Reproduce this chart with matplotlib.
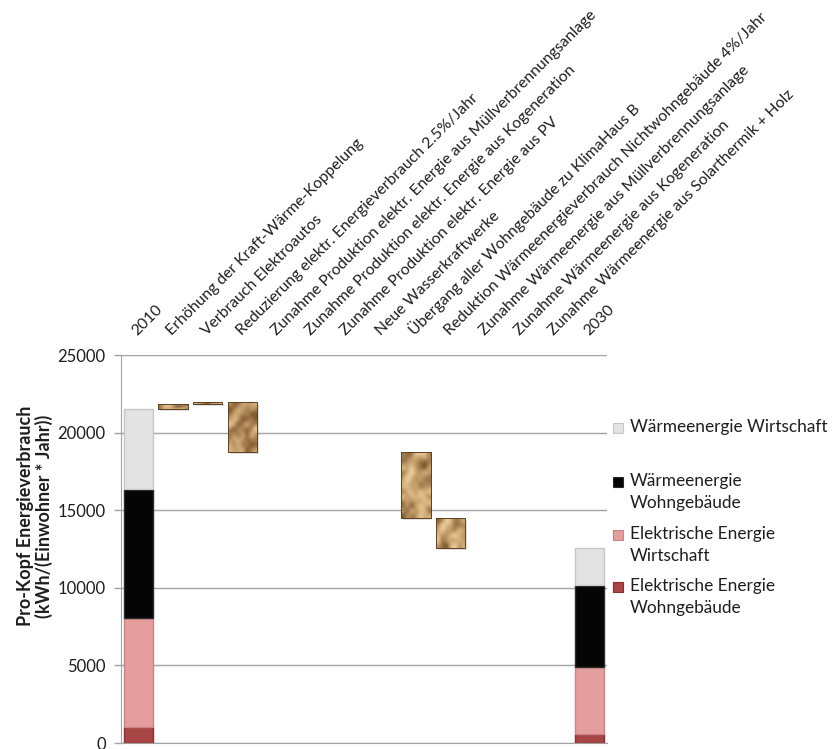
import numpy as np
import matplotlib
matplotlib.use("Agg")
import matplotlib.pyplot as plt
from matplotlib.patches import Rectangle
from matplotlib.colors import LinearSegmentedColormap

plt.rcParams["font.family"] = ["Lato", "DejaVu Sans"]

# --- data -------------------------------------------------------------
categories = [
    "2010",
    "Erhöhung der Kraft-Wärme-Koppelung",
    "Verbrauch Elektroautos",
    "Reduzierung elektr. Energieverbrauch 2.5%/Jahr",
    "Zunahme Produktion elektr. Energie aus Müllverbrennungsanlage",
    "Zunahme Produktion elektr. Energie aus Kogeneration",
    "Zunahme Produktion elektr. Energie aus PV",
    "Neue Wasserkraftwerke",
    "Übergang aller Wohngebäude zu KlimaHaus B",
    "Reduktion Wärmeenergieverbrauch Nichtwohngebäude 4%/Jahr",
    "Zunahme Wärmeenergie aus Müllverbrennungsanlage",
    "Zunahme Wärmeenergie aus Kogeneration",
    "Zunahme Wärmeenergie aus Solarthermik + Holz",
    "2030",
]

series_names = [
    "Elektrische Energie\nWohngebäude",
    "Elektrische Energie\nWirtschaft",
    "Wärmeenergie\nWohngebäude",
    "Wärmeenergie Wirtschaft",
]
values_2010 = [1000, 7050, 8300, 5150]
values_2030 = [600, 4320, 5260, 2370]

# changes between the two totals (steps 1 .. 12)
changes = [320, 150, -3200, 0, 0, 0, 0, -4300, -1920, 0, 0, 0]

yticks = [0, 5000, 10000, 15000, 20000, 25000]

# --- styling ------------------------------------------------------------
series_colors = ["#a84545", "#e59d9d", "#050505", "#e3e3e3"]
edge_colors = ["#8a3030", "#c98585", "#2a2a2a", "#c6c6c6"]
grid_color = "#a3a3a3"
text_color = "#1e1e1e"
bar_width = 0.84

fig = plt.figure(figsize=(8.32, 7.49), dpi=100)
W, H = 832, 749
ax = fig.add_axes([121 / W, 1 - 743 / H, (607 - 121) / W, (743 - 355) / H])

x = np.arange(len(categories))

# stacked totals for 2010 and 2030
for xi, vals in ((0, values_2010), (len(categories) - 1, values_2030)):
    bottom = 0
    for v, c, ec in zip(vals, series_colors, edge_colors):
        ax.bar(xi, v, bottom=bottom, width=bar_width, color=c,
               edgecolor=ec, linewidth=1.0, zorder=3)
        bottom += v

# floating bars for the steps, filled with a crumpled-paper texture
paper = LinearSegmentedColormap.from_list(
    "paper", ["#5e4224", "#8f6a3e", "#c29c69", "#e4c48f", "#f6e0b6"])
rng = np.random.default_rng(7)
level = sum(values_2010)
for i, d in enumerate(changes, start=1):
    start, end = level, level + d
    level = end
    if d == 0:
        continue
    lo, hi = min(start, end), max(start, end)
    bars = ax.bar(i, hi - lo, bottom=lo, width=bar_width, color="#b8935f",
                  edgecolor="#6b4c2a", linewidth=0.6, zorder=3)
    patch = bars[0]
    # soft shadow beneath the box
    ax.bar(i + 0.05, hi - lo, bottom=lo - 120, width=bar_width,
           color="#000000", alpha=0.12, linewidth=0, zorder=2)
    ny = max(3, int((hi - lo) / 300))
    nx = 7
    tex = rng.random((ny, nx))
    tex = 0.5 * tex + 0.5 * np.roll(np.roll(tex, 1, axis=1), 1, axis=0)
    img = ax.imshow(tex, cmap=paper, interpolation="bicubic", aspect="auto",
                    extent=(i - bar_width / 2, i + bar_width / 2, lo, hi),
                    origin="lower", zorder=4)
    img.set_clip_path(patch)
    ax.add_patch(Rectangle((i - bar_width / 2, lo), bar_width, hi - lo,
                           fill=False, edgecolor="#5e4222", linewidth=0.7,
                           zorder=5))

ax.set_xlim(-0.5, len(categories) - 0.5)
ax.set_ylim(0, 25000)

# axes
ax.set_yticks(yticks)
ax.set_yticklabels([str(t) for t in yticks], fontsize=12, color=text_color)
ax.tick_params(axis="y", length=5, width=1, color=grid_color, pad=6)
ax.set_xticks([])
ax.yaxis.grid(True, color=grid_color, linewidth=1.0, zorder=0)
ax.set_axisbelow(True)
for s in ("top", "right"):
    ax.spines[s].set_visible(False)
ax.spines["left"].set_color(grid_color)
ax.spines["bottom"].set_color(grid_color)

# category labels above the plot, rotated
for xi, lab in zip(x, categories):
    ax.text(xi - 0.02, 1.05, lab, transform=ax.get_xaxis_transform(),
            rotation=45, rotation_mode="anchor", ha="left", va="baseline",
            fontsize=11.3, color=text_color)

# y axis title
fig.text(35 / W, 1 - 516 / H,
         "Pro-Kopf Energieverbrauch\n(kWh/(Einwohner * Jahr))",
         rotation=90, ha="center", va="center", fontsize=13,
         fontweight="bold", color=text_color, multialignment="center",
         linespacing=1.1)

# legend, top entry first
legend_rows = [428, 482, 535, 587]
for name, c, ec, yy in zip(series_names[::-1], series_colors[::-1],
                           edge_colors[::-1], legend_rows):
    fig.add_artist(Rectangle((613 / W, 1 - (yy + 5) / H), 10 / W, 10 / H,
                             facecolor=c, edgecolor=ec, linewidth=0.8,
                             transform=fig.transFigure))
    fig.text(630 / W, 1 - (yy - 9) / H, name, ha="left", va="top",
             fontsize=12.4, color=text_color, linespacing=1.45)

fig.savefig("out.png", dpi=100)
